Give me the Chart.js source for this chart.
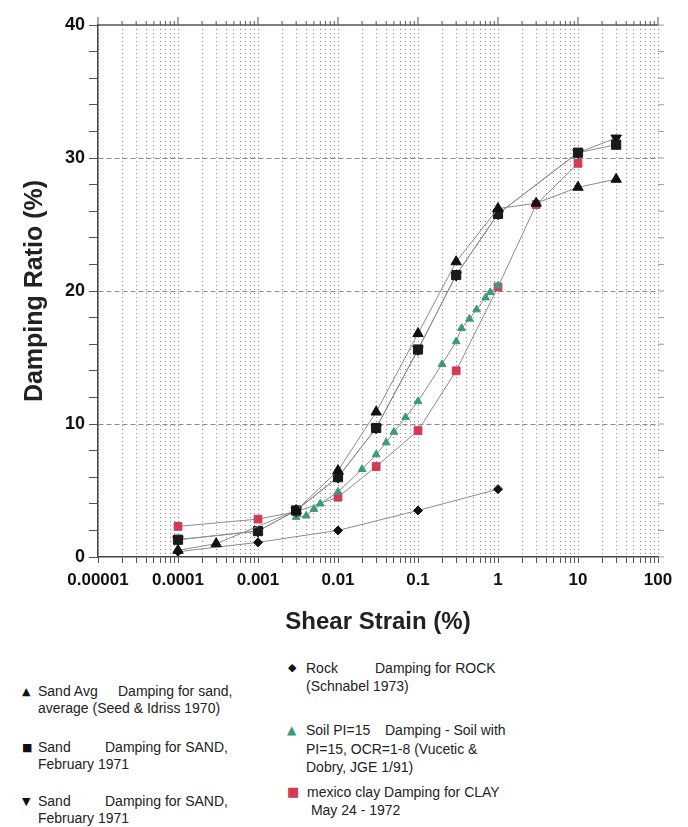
<!DOCTYPE html>
<html>
<head>
<meta charset="utf-8">
<script src="https://cdn.jsdelivr.net/npm/chart.js@4.4.0/dist/chart.umd.min.js"></script>
<style>
  body { margin: 0; background: #fff; width: 688px; height: 827px; position: relative; overflow: hidden;
         font-family: "Liberation Sans", Arial, sans-serif; }
  #c { position: absolute; left: 0; top: 0; }
  .leg { position: absolute; font-size: 14px; line-height: 17px; color: #222; white-space: nowrap; }
  .leg .mk { position: absolute; left: -16px; top: 0; font-size: 11px; font-family: "DejaVu Sans", sans-serif; color: #111; }
  .leg .nm { display: inline-block; }
</style>
</head>
<body>
<canvas id="c" width="688" height="650"></canvas>

<div class="leg" style="left:38px; top:683px;"><span class="mk">▲</span><span class="nm" style="width:80px">Sand Avg</span>Damping for sand,<br>average (Seed &amp; Idriss 1970)</div>
<div class="leg" style="left:38px; top:739px;"><span class="mk">■</span><span class="nm" style="width:67px">Sand</span>Damping for SAND,<br>February 1971</div>
<div class="leg" style="left:38px; top:793px;"><span class="mk">▼</span><span class="nm" style="width:67px">Sand</span>Damping for SAND,<br>February 1971</div>

<div class="leg" style="left:306px; top:659px; line-height:18px;"><span class="mk" style="left:-18px">◆</span><span class="nm" style="width:69px">Rock</span>Damping for ROCK<br>(Schnabel 1973)</div>
<div class="leg" style="left:306px; top:721px; line-height:18.5px;"><span class="mk" style="left:-19px; color:#3a9a7a; font-size:12px">▲</span><span class="nm" style="width:79px">Soil PI=15</span>Damping - Soil with<br>PI=15, OCR=1-8 (Vucetic &amp;<br>Dobry, JGE 1/91)</div>
<div class="leg" style="left:307px; top:783px; line-height:18px;"><span class="mk" style="left:-20px; color:#d23a55; font-size:13px">■</span>mexico clay Damping for CLAY<br>&nbsp;May 24 - 1972</div>

<script>
// axis labels
var xTickLabels = ['0.00001', '0.0001', '0.001', '0.01', '0.1', '1', '10', '100'];
var yTickLabels = ['0', '10', '20', '30', '40'];
var yMinorStep = 2;

// Sand Avg - Seed & Idriss 1970
var sandAvgX = [0.0001, 0.0003, 0.003, 0.01, 0.03, 0.1, 0.3, 1, 3, 10, 30];
var sandAvgY = [0.5, 1.0, 3.5, 6.5, 10.9, 16.8, 22.2, 26.2, 26.6, 27.8, 28.4];

// Sand - February 1971 (squares)
var sandFebX = [0.0001, 0.001, 0.003, 0.01, 0.03, 0.1, 0.3, 1, 10, 30];
var sandFebY = [1.3, 1.95, 3.5, 6.0, 9.7, 15.6, 21.2, 25.8, 30.4, 31.0];

// Sand - February 1971 (down triangles)
var sandFeb2X = [0.0001, 0.001, 0.003, 0.01, 0.03, 0.1, 0.3, 1, 10, 30];
var sandFeb2Y = [1.3, 1.95, 3.5, 6.0, 9.7, 15.6, 21.2, 25.8, 30.4, 31.5];

// Rock - Schnabel 1973
var rockX = [0.0001, 0.001, 0.01, 0.1, 1];
var rockY = [0.4, 1.1, 2.0, 3.5, 5.1];

// Soil PI=15 - Vucetic & Dobry
var soilX = [0.003, 0.004, 0.005, 0.006, 0.01, 0.02, 0.03, 0.04, 0.05, 0.07, 0.1, 0.2, 0.3, 0.35, 0.44, 0.54, 0.7, 0.8, 1];
var soilY = [3.0, 3.1, 3.6, 4.0, 4.9, 6.6, 7.7, 8.6, 9.4, 10.5, 11.7, 14.5, 16.2, 17.2, 17.9, 18.6, 19.5, 19.9, 20.4];

// mexico clay - May 24 1972
var mexicoX = [0.0001, 0.001, 0.003, 0.01, 0.03, 0.1, 0.3, 1, 3, 10];
var mexicoY = [2.3, 2.85, 3.4, 4.5, 6.8, 9.5, 14.0, 20.3, 26.5, 29.6];

var fontFam = '"Liberation Sans", Arial, sans-serif';

function pts(xs, ys) {
    return xs.map(function (x, i) { return {x: x, y: ys[i]}; });
}

// every minor log position between the decades
var xMajor = xTickLabels.map(Number);
var xAllTicks = [];
xMajor.forEach(function (d, i) {
    xAllTicks.push(d);
    if (i < xMajor.length - 1) {
        for (var m = 2; m <= 9; m++) xAllTicks.push(d * m);
    }
});
var yAllTicks = [];
for (var v = 0; v <= Number(yTickLabels[yTickLabels.length - 1]); v += yMinorStep) yAllTicks.push(v);

function series(label, xs, ys, style, radius, color, rotation) {
    return {
        label: label,
        data: pts(xs, ys),
        showLine: true,
        borderColor: '#8c8c8c',
        borderWidth: 1,
        pointStyle: style,
        pointRadius: radius,
        pointRotation: rotation || 0,
        pointBackgroundColor: color,
        pointBorderColor: color,
        pointBorderWidth: 1
    };
}

// top frame line + ticks on top and right side
var frameTicks = {
    id: 'frameTicks',
    afterDraw: function (chart) {
        var ctx = chart.ctx, a = chart.chartArea, x = chart.scales.x, y = chart.scales.y;
        ctx.save();
        ctx.strokeStyle = '#555';
        ctx.lineWidth = 1.3;
        ctx.beginPath();
        ctx.moveTo(a.left, a.top);
        ctx.lineTo(a.right, a.top);
        ctx.stroke();
        ctx.lineWidth = 1;
        x.ticks.forEach(function (t) {
            var px = x.getPixelForValue(t.value);
            var major = t.label !== '';
            ctx.beginPath();
            ctx.moveTo(px, a.top);
            ctx.lineTo(px, a.top - (major ? 8 : 4));
            ctx.stroke();
        });
        ctx.strokeStyle = '#999';
        y.ticks.forEach(function (t) {
            var py = y.getPixelForValue(t.value);
            ctx.beginPath();
            ctx.moveTo(a.right, py);
            ctx.lineTo(a.right + 6, py);
            ctx.stroke();
        });
        ctx.restore();
    }
};

var ctx = document.getElementById('c').getContext('2d');
var chart = new Chart(ctx, {
    type: 'scatter',
    data: {
        datasets: [
            series('Sand Avg', sandAvgX, sandAvgY, 'triangle', 6, '#111'),
            series('Sand', sandFebX, sandFebY, 'rect', 6.5, '#1a1a1a'),
            series('Sand', sandFeb2X, sandFeb2Y, 'triangle', 6, '#111', 180),
            series('Rock', rockX, rockY, 'rectRot', 4.5, '#111'),
            series('Soil PI=15', soilX, soilY, 'triangle', 4.5, '#3a9a7a'),
            series('mexico clay', mexicoX, mexicoY, 'rect', 5.5, '#d23a55')
        ]
    },
    options: {
        responsive: false,
        animation: false,
        layout: {padding: {left: 0, top: 25, right: 30, bottom: 0}},
        plugins: {
            legend: {display: false},
            tooltip: {enabled: false}
        },
        scales: {
            x: {
                type: 'logarithmic',
                min: 1e-5,
                max: 100,
                afterBuildTicks: function (s) {
                    s.ticks = xAllTicks.map(function (v) { return {value: v}; });
                },
                afterFit: function (s) { s.height = 93; },
                ticks: {
                    autoSkip: false,
                    maxRotation: 0,
                    padding: 7,
                    color: '#111',
                    font: {size: 17, weight: 'bold', family: fontFam},
                    callback: function (v) {
                        var k = Math.log10(v);
                        return Math.abs(k - Math.round(k)) < 1e-6 ? xTickLabels[Math.round(k) + 5] : '';
                    }
                },
                grid: {color: '#8a8a8a', lineWidth: 1, tickLength: 6, tickColor: '#555', tickBorderDash: []},
                border: {color: '#444', width: 1.5, dash: [1, 3]},
                title: {
                    display: true,
                    text: 'Shear Strain (%)',
                    color: '#222',
                    font: {size: 24, weight: 'bold', family: fontFam},
                    padding: {top: 0, bottom: 13}
                }
            },
            y: {
                min: 0,
                max: 40,
                afterBuildTicks: function (s) {
                    s.ticks = yAllTicks.map(function (v) { return {value: v}; });
                },
                afterFit: function (s) { s.width = 98; },
                ticks: {
                    autoSkip: false,
                    padding: 4,
                    color: '#111',
                    font: {size: 18, weight: 'bold', family: fontFam},
                    callback: function (v) {
                        return yTickLabels.indexOf(String(v)) >= 0 ? String(v) : '';
                    }
                },
                grid: {
                    color: function (c) {
                        var t = c.tick ? c.tick.value : -1;
                        return (t > 0 && t < 40 && t % 10 === 0) ? '#8a8a8a' : 'rgba(0,0,0,0)';
                    },
                    tickColor: '#555',
                    tickLength: 9,
                    tickBorderDash: []
                },
                border: {color: '#444', width: 1.5, dash: [5, 3]},
                title: {
                    display: true,
                    text: 'Damping Ratio (%)',
                    color: '#222',
                    font: {size: 25, weight: 'bold', family: fontFam},
                    padding: {top: 20, bottom: 0}
                }
            }
        }
    },
    plugins: [frameTicks]
});
</script>
</body>
</html>
